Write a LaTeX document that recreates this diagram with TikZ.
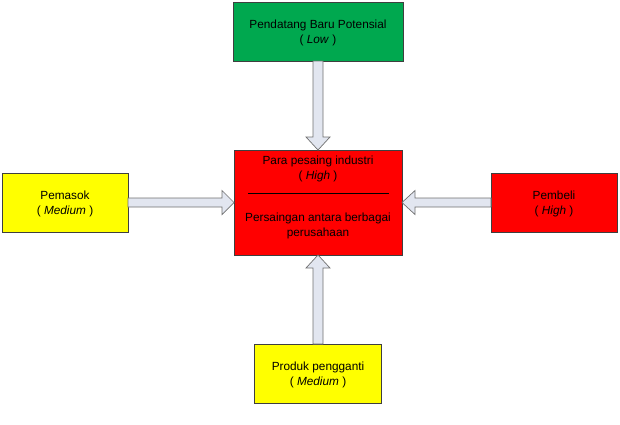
\documentclass[tikz,border=0pt]{standalone}
\usepackage{fontspec}
\setmainfont{Liberation Sans}
\usetikzlibrary{calc}
\definecolor{boxgreen}{HTML}{00A84F}
\definecolor{boxyellow}{HTML}{FFFF00}
\definecolor{boxred}{HTML}{FF0000}
\definecolor{edgegray}{HTML}{3F3F3F}
\definecolor{arrowfill}{HTML}{E2E6F0}
\definecolor{arrowedge}{HTML}{707070}
\begin{document}
\begin{tikzpicture}[x=1pt,y=1pt,
  box/.style={draw=edgegray, line width=0.6pt, inner sep=0pt, outer sep=0pt, align=center,
    font=\fontsize{11.8}{15}\selectfont},
  txt/.style={inner sep=0pt, align=center, font=\fontsize{11.8}{15}\selectfont},
  barrow/.style={draw=arrowedge, fill=arrowfill, line width=0.7pt, line join=miter}]
\useasboundingbox (0,0) rectangle (620,-424);
% boxes
\node[box, fill=boxgreen, minimum width=170, minimum height=59] (new) at (318,-31.5) {};
\node[txt] (newt) at (318,-33) {Pendatang Baru Potensial\\( \textit{Low} )};
\node[box, fill=boxred, minimum width=168, minimum height=105] (comp) at (318,-202.5) {};
\node[txt] (comptop) at (318,-168.5) {Para pesaing industri\\( \textit{High} )};
\node[txt] (compbot) at (318,-225.5) {Persaingan antara berbagai\\perusahaan};
\draw[line width=0.6pt] ($(comp.west)+(14,9.5)$) coordinate (ls) -- ($(comp.east)+(-13,9.5)$) coordinate (le);
\node[box, fill=boxyellow, minimum width=126, minimum height=59] (pem) at (65,-202.5) {};
\node[txt] (pemt) at (65,-204) {Pemasok\\( \textit{Medium} )};
\node[box, fill=boxred, minimum width=126, minimum height=59] (buy) at (554,-202.5) {};
\node[txt] (buyt) at (554,-204) {Pembeli\\( \textit{High} )};
\node[box, fill=boxyellow, minimum width=127, minimum height=59] (sub) at (318,-373.5) {};
\node[txt] (subt) at (318,-375) {Produk pengganti\\( \textit{Medium} )};
% block arrows
\draw[barrow] ($(pem.east)+(0,4.5)$) -- ($(comp.west)+(-12,4.5)$) -- ($(comp.west)+(-12,12)$)
  -- (comp.west) -- ($(comp.west)+(-12,-12)$) -- ($(comp.west)+(-12,-4.5)$)
  -- ($(pem.east)+(0,-4.5)$) -- cycle;
\draw[barrow] ($(buy.west)+(0,4.5)$) -- ($(comp.east)+(13,4.5)$) -- ($(comp.east)+(13,12)$)
  -- (comp.east) -- ($(comp.east)+(13,-12)$) -- ($(comp.east)+(13,-4.5)$)
  -- ($(buy.west)+(0,-4.5)$) -- cycle;
\draw[barrow] ($(new.south)+(-5,0)$) -- ($(comp.north)+(-5,13)$) -- ($(comp.north)+(-12,13)$)
  -- (comp.north) -- ($(comp.north)+(12,13)$) -- ($(comp.north)+(5,13)$)
  -- ($(new.south)+(5,0)$) -- cycle;
\draw[barrow] ($(sub.north)+(-5,0)$) -- ($(comp.south)+(-5,-13)$) -- ($(comp.south)+(-12,-13)$)
  -- (comp.south) -- ($(comp.south)+(12,-13)$) -- ($(comp.south)+(5,-13)$)
  -- ($(sub.north)+(5,0)$) -- cycle;
\end{tikzpicture}
\end{document}
